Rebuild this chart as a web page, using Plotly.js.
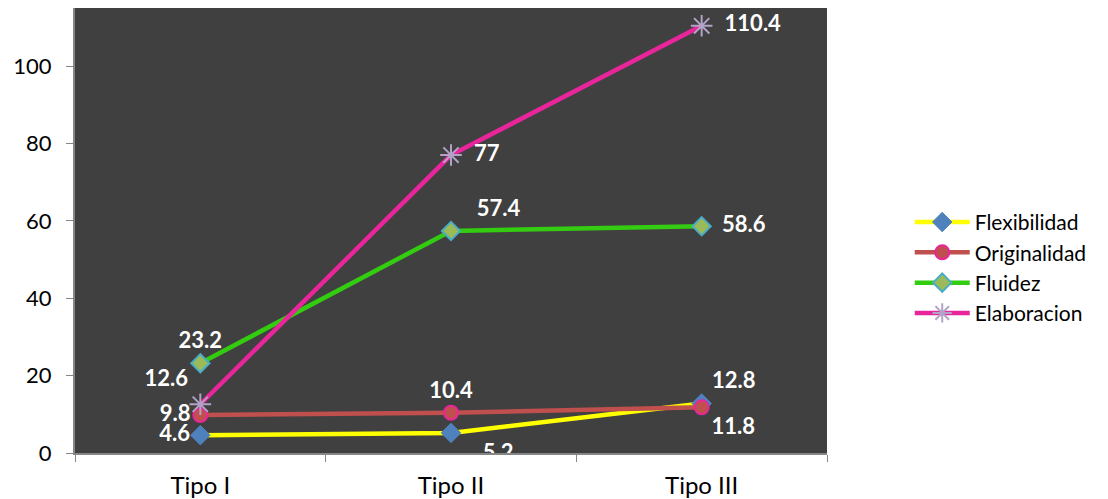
<!DOCTYPE html>
<html><head><meta charset="utf-8">
<script src="https://cdn.plot.ly/plotly-3.0.1.min.js"></script>
<style>body{margin:0;background:#fff}#c{width:1108px;height:499px}</style>
</head><body><div id="c"></div>
<script>
const categories = ["Tipo I", "Tipo II", "Tipo III"];
const flexibilidad = [4.6, 5.2, 12.8];
const originalidad = [9.8, 10.4, 11.8];
const fluidez = [23.2, 57.4, 58.6];
const elaboracion = [12.6, 77, 110.4];
const yTicks = [0, 20, 40, 60, 80, 100];

const FONT = "Lato, 'Liberation Sans', sans-serif";
const lbl = {family: FONT, size: 22, color: "#ffffff", weight: "bold"};
const NB = "\u00a0";

function tr(name, y, line, marker, pos, pad) {
  return {
    type: "scatter", mode: "lines+markers+text", name: name,
    x: categories, y: y,
    text: y.map((v, i) => NB.repeat(pad[i]) + String(v)), textposition: pos, textfont: lbl,
    line: {color: line, width: 4.5},
    marker: marker, cliponaxis: true
  };
}

const data = [
  tr("Flexibilidad", flexibilidad, "#FFFF00",
     {symbol: "diamond", size: 15, color: "#4F81BD", line: {color: "#4F81BD", width: 1}},
     ["middle left", "bottom right", "top right"], [0, 4, 0]),
  tr("Originalidad", originalidad, "#C0504D",
     {symbol: "circle", size: 14, color: "#C0504D", line: {color: "#E8259A", width: 2}},
     ["middle left", "top center", "bottom right"], [0, 0, 0]),
  tr("Fluidez", fluidez, "#33CC11",
     {symbol: "diamond", size: 14, color: "#9BBB59", line: {color: "#4BACC6", width: 2}},
     ["top center", "top right", "middle right"], [0, 3, 2]),
  tr("Elaboracion", elaboracion, "#E8259A",
     {symbol: "asterisk-open", size: 18, color: "#B3A2C7", line: {color: "#B3A2C7", width: 2}},
     ["top left", "middle right", "middle right"], [0, 2, 2])
];

const layout = {
  width: 1108, height: 499,
  margin: {l: 75, r: 281, t: 8, b: 46},
  paper_bgcolor: "#ffffff", plot_bgcolor: "#404040",
  font: {family: FONT, size: 22, color: "#000000"},
  showlegend: true,
  legend: {x: 1.11, xanchor: "left", y: 0.416, yanchor: "middle",
           font: {family: FONT, size: 21, color: "#000"},
           itemwidth: 55, tracegroupgap: 0, bgcolor: "rgba(0,0,0,0)"},
  xaxis: {type: "category", range: [-0.5, 2.5], showgrid: false, zeroline: false,
          showline: true, linecolor: "#868686", linewidth: 2,
          ticks: "outside", ticklen: 7, tickcolor: "#868686", tickwidth: 1,
          tickson: "boundaries", ticklabelstandoff: 10,
          tickfont: {family: FONT, size: 24, color: "#000"}},
  yaxis: {range: [0, 115], tickvals: yTicks, showgrid: false, zeroline: false,
          showline: true, linecolor: "#868686", linewidth: 2,
          ticks: "outside", ticklen: 7, tickcolor: "#868686", tickwidth: 1,
          ticklabelstandoff: 10,
          tickfont: {family: FONT, size: 22, color: "#000"}}
};

Plotly.newPlot("c", data, layout, {displayModeBar: false, staticPlot: true});
</script></body></html>
